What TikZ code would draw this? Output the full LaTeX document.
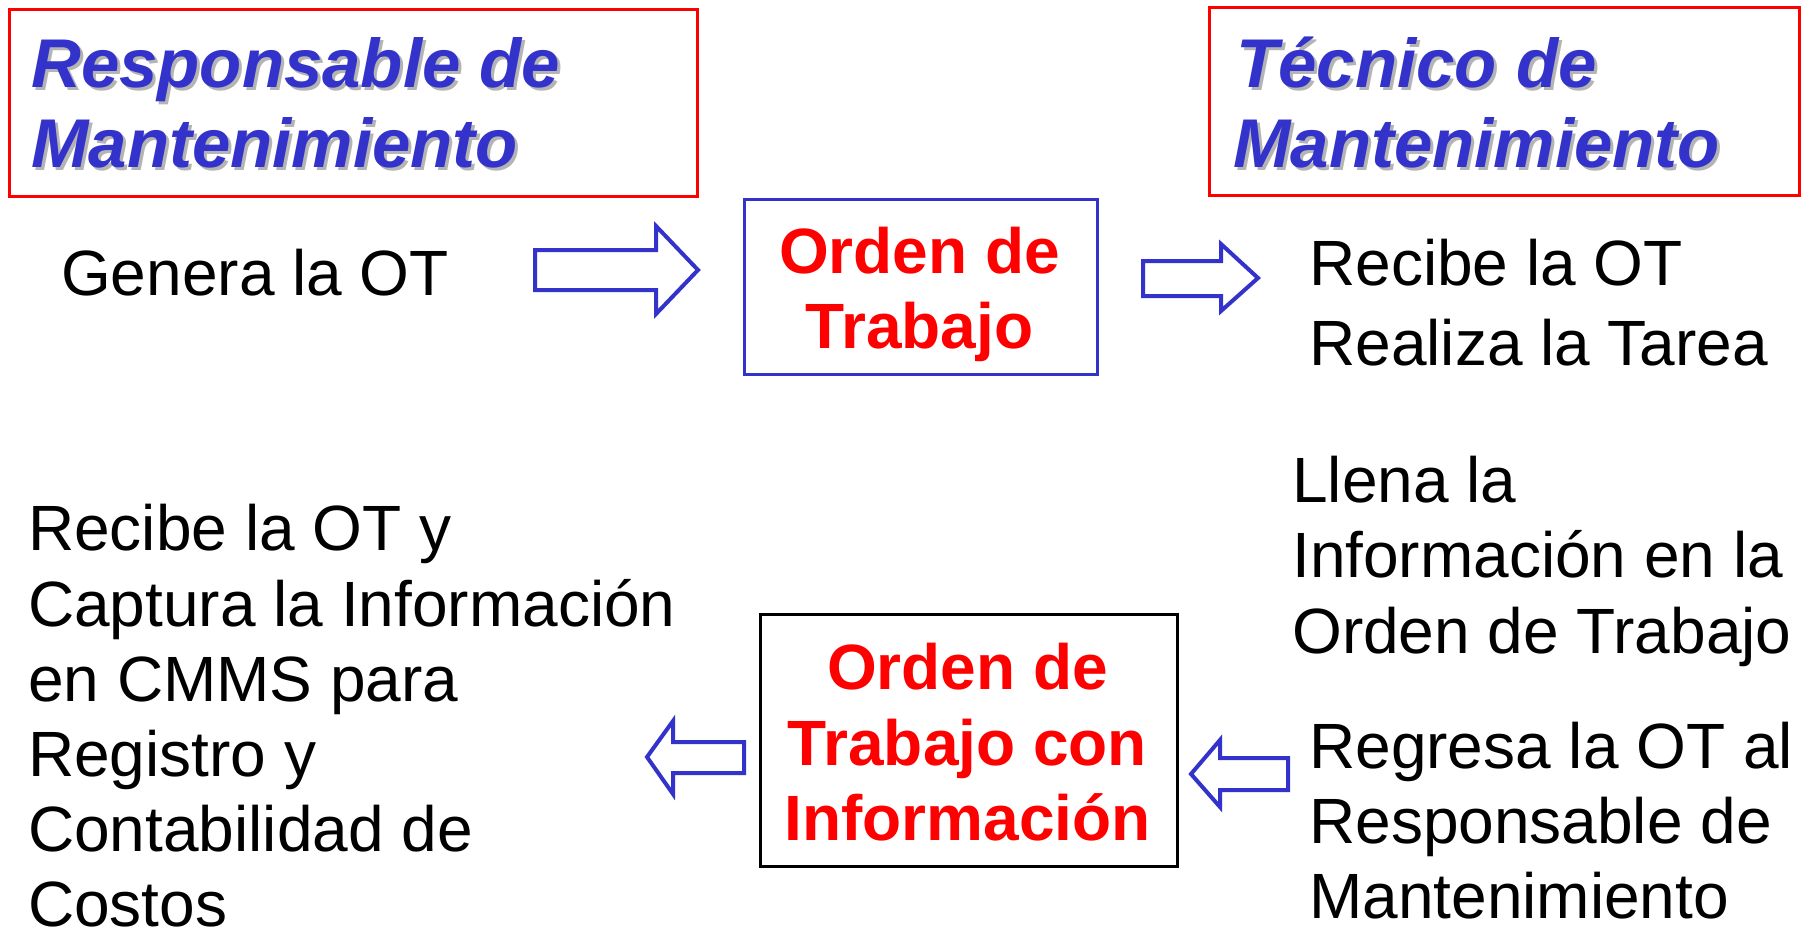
\documentclass[tikz,border=0pt]{standalone}
\usepackage{fontspec}
\setmainfont{Liberation Sans}
\definecolor{tblue}{HTML}{3333CC}
\definecolor{tred}{HTML}{FF0000}
\definecolor{tshade}{HTML}{B4B4B4}
\begin{document}
\begin{tikzpicture}[x=1pt,y=-1pt,
  body/.style={anchor=base west,inner sep=0pt,font=\fontsize{64}{75}\selectfont,text=black},
  title/.style={anchor=base west,inner sep=0pt,font=\fontsize{69}{80}\selectfont\bfseries\itshape,text=tblue},
  shadowtitle/.style={title,text=tshade},
  boxtext/.style={anchor=base,inner sep=0pt,font=\fontsize{64}{75}\selectfont\bfseries,text=tred},
  frame/.style={anchor=north west,inner sep=0pt,line width=2.5pt,fill=none},
  blockarrow/.style={draw=tblue,line width=4pt,fill=white,line join=miter,miter limit=10}
]
\useasboundingbox (0,0) rectangle (1811,935);
\fill[white] (0,0) rectangle (1811,935);

% title boxes
\node[frame,draw=tred,minimum width=688pt,minimum height=187pt] (rbox) at (8,8) {};
\node[frame,draw=tred,minimum width=590pt,minimum height=188pt] (tbox) at (1208,6) {};

\node[shadowtitle] (rs1) at (34,90) {Responsable de};
\node[shadowtitle] (rs2) at (34,170) {Mantenimiento};
\node[title] (r1) at (31,87) {Responsable de};
\node[title] (r2) at (31,167) {Mantenimiento};

\node[shadowtitle] (ts1) at (1239,90) {Técnico de};
\node[shadowtitle] (ts2) at (1236,170) {Mantenimiento};
\node[title] (t1) at (1236,87) {Técnico de};
\node[title] (t2) at (1233,167) {Mantenimiento};

% top row
\node[body] (genera) at (61,295) {Genera la OT};

\node[frame,draw=tblue,minimum width=353pt,minimum height=175pt] (ot) at (743,198) {};
\node[boxtext] (ot1) at (919.5,273) {Orden de};
\node[boxtext] (ot2) at (919.5,348) {Trabajo};

\node[body] (rec1) at (1309,285) {Recibe la OT};
\node[body] (rec2) at (1309,365) {Realiza la Tarea};

% arrows top
\draw[blockarrow] (535,250) -- (656,250) -- (656,226) -- (698,270) -- (656,314) -- (656,290) -- (535,290) -- cycle;
\draw[blockarrow] (1143,261) -- (1221,261) -- (1221,244) -- (1258,278) -- (1221,311) -- (1221,296) -- (1143,296) -- cycle;

% right lower texts
\node[body] (ll1) at (1292,502) {Llena la};
\node[body] (ll2) at (1292,577) {Información en la};
\node[body] (ll3) at (1292,653) {Orden de Trabajo};

\node[body] (rg1) at (1309,768) {Regresa la OT al};
\node[body] (rg2) at (1309,843) {Responsable de};
\node[body] (rg3) at (1309,918) {Mantenimiento};

% lower box
\node[frame,draw=black,minimum width=417pt,minimum height=252pt] (oti) at (759,613) {};
\node[boxtext] (oti1) at (967.5,689) {Orden de};
\node[boxtext] (oti2) at (967.5,765) {Trabajo con};
\node[boxtext] (oti3) at (967.5,840) {Información};

% left lower texts
\node[body] (lc1) at (28,550) {Recibe la OT y};
\node[body] (lc2) at (28,626) {Captura la Información};
\node[body] (lc3) at (28,701) {en CMMS para};
\node[body] (lc4) at (28,776) {Registro y};
\node[body] (lc5) at (28,851) {Contabilidad de};
\node[body] (lc6) at (28,926) {Costos};

% arrows bottom
\draw[blockarrow] (744,742) -- (673,742) -- (673,721) -- (647,757) -- (673,794) -- (673,773) -- (744,773) -- cycle;
\draw[blockarrow] (1288,758) -- (1220,758) -- (1220,740) -- (1191,774) -- (1220,807) -- (1220,790) -- (1288,790) -- cycle;
\end{tikzpicture}
\end{document}
